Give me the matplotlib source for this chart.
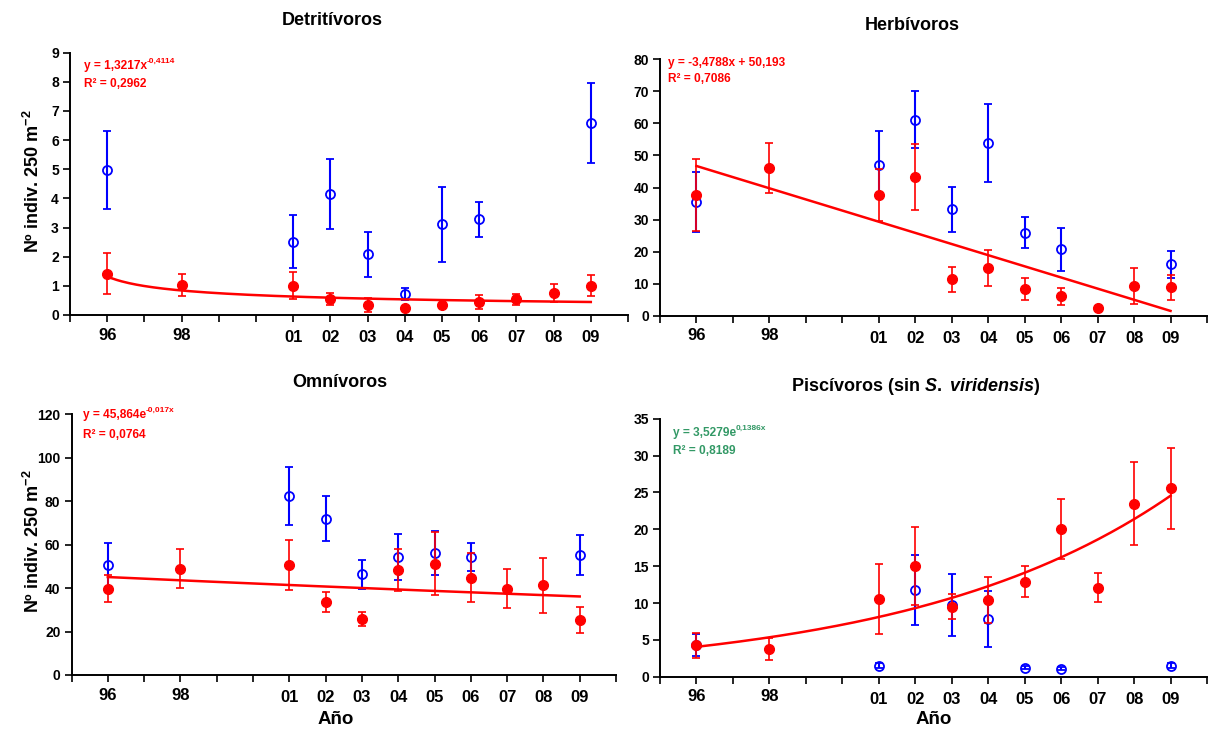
import numpy as np
import matplotlib
matplotlib.use("Agg")
import matplotlib.pyplot as plt
from matplotlib.ticker import FixedLocator, FuncFormatter

plt.rcParams['font.family'] = ['Liberation Sans', 'DejaVu Sans']
plt.rcParams['font.weight'] = 'bold'
plt.rcParams['mathtext.fontset'] = 'custom'
plt.rcParams['mathtext.rm'] = 'Liberation Sans:bold'
plt.rcParams['mathtext.bf'] = 'Liberation Sans:bold'
plt.rcParams['mathtext.it'] = 'Liberation Sans:bold:italic'

nan = np.nan

# Sampling years (two-digit labels on the x axis)
years = [1996, 1998, 2001, 2002, 2003, 2004, 2005, 2006, 2007, 2008, 2009]
year_labels = ['96', '98', '01', '02', '03', '04', '05', '06', '07', '08', '09']

# Detritívoros
det_blue = [4.97, nan, 2.52, 4.16, 2.08, 0.72, 3.11, 3.28, nan, nan, 6.59]
det_blue_err = [1.33, nan, 0.91, 1.20, 0.78, 0.19, 1.28, 0.60, nan, nan, 1.37]
det_red = [1.42, 1.04, 1.01, 0.56, 0.34, 0.23, 0.33, 0.44, 0.54, 0.75, 1.01]
det_red_err = [0.70, 0.38, 0.46, 0.20, 0.25, 0.05, 0.05, 0.23, 0.18, 0.32, 0.35]

# Herbívoros
herb_blue = [35.4, nan, 47.1, 61.1, 33.2, 53.8, 25.9, 20.7, nan, nan, 16.0]
herb_blue_err = [9.4, nan, 10.5, 8.9, 7.1, 12.2, 4.9, 6.7, nan, nan, 4.3]
herb_red = [37.7, 46.1, 37.7, 43.3, 11.3, 14.9, 8.3, 6.0, 2.3, 9.3, 8.8]
herb_red_err = [11.2, 7.8, 8.0, 10.4, 3.8, 5.5, 3.4, 2.7, 0.3, 5.7, 3.9]

# Omnívoros
omn_blue = [50.6, nan, 82.3, 72.0, 46.4, 54.3, 56.2, 54.3, nan, nan, 55.4]
omn_blue_err = [10.2, nan, 13.4, 10.5, 6.7, 10.4, 10.0, 6.4, nan, nan, 9.2]
omn_red = [39.8, 49.0, 50.6, 33.6, 25.8, 48.2, 51.1, 44.8, 39.8, 41.3, 25.3]
omn_red_err = [6.0, 9.0, 11.6, 4.6, 3.4, 9.7, 14.5, 11.2, 9.0, 12.7, 6.0]

# Piscívoros (sin S. viridensis)
pisc_blue = [4.3, nan, 1.5, 11.8, 9.7, 7.8, 1.2, 1.1, nan, nan, 1.5]
pisc_blue_err = [1.5, nan, 0.3, 4.75, 4.2, 3.8, 0.2, 0.2, nan, nan, 0.3]
pisc_red = [4.25, 3.75, 10.6, 15.0, 9.5, 10.45, 12.9, 20.0, 12.1, 23.5, 25.6]
pisc_red_err = [1.7, 1.5, 4.75, 5.3, 1.7, 3.1, 2.15, 4.05, 2.0, 5.6, 5.5]

# Trend-line coefficients (x = years since 1995)
det_power = (1.3217, -0.4114)
herb_linear = (-3.4788, 50.193)
omn_exp = (45.864, -0.017)
pisc_exp = (3.5279, 0.1386)

W, H = 1210, 731
fig = plt.figure(figsize=(W / 100, H / 100), dpi=100)
fig.patch.set_facecolor('white')


def frac(x0, y0, x1, y1):
    """pixel box (left, top, right, bottom) -> figure fraction rect"""
    return [x0 / W, 1 - y1 / H, (x1 - x0) / W, (y1 - y0) / H]


def fpt(x, y):
    return x / W, 1 - y / H


xs = np.array(years) - 1995
label_at = {int(x): lab for x, lab in zip(xs, year_labels)}
RED = '#ff0000'
BLUE = '#0000ff'
GREEN = '#339966'


def panel(rect, ymax, ystep, blue, blue_err, red, red_err, trend_fn):
    ax = fig.add_axes(rect)
    ax.set_xlim(0, 15)
    ax.set_ylim(0, ymax)
    for s in ('top', 'right'):
        ax.spines[s].set_visible(False)
    for s in ('left', 'bottom'):
        ax.spines[s].set_linewidth(1.4)
    # 96 and 98 as major ticks, the 2000s as minor ticks set a little lower
    early = [x for x in xs if x < 5]
    ax.xaxis.set_major_locator(FixedLocator(early))
    ax.xaxis.set_major_formatter(FuncFormatter(lambda v, p: label_at.get(int(round(v)), '')))
    ax.xaxis.set_minor_locator(FixedLocator(np.arange(0, 16)))
    ax.xaxis.set_minor_formatter(FuncFormatter(
        lambda v, p: label_at.get(int(round(v)), '') if v >= 5 else ''))
    ax.tick_params(axis='x', which='both', direction='out', length=5, width=1.2,
                   labelsize=12)
    ax.tick_params(axis='x', which='major', pad=4)
    ax.tick_params(axis='x', which='minor', pad=6)
    ax.set_yticks(np.arange(0, ymax + 0.001, ystep))
    ax.tick_params(axis='y', direction='out', length=5, width=1.2, labelsize=10, pad=3)

    b = np.array(blue, dtype=float)
    be = np.array(blue_err, dtype=float)
    m = ~np.isnan(b)
    ax.errorbar(xs[m], b[m], yerr=be[m], fmt='o', color=BLUE, mfc='none', mec=BLUE,
                ms=6.5, mew=1.3, elinewidth=1.5, capsize=3, capthick=1.5, zorder=3)
    ax.errorbar(xs, red, yerr=red_err, fmt='o', color=RED, mfc=RED, mec=RED,
                ms=7, elinewidth=1.2, capsize=3, capthick=1.2, zorder=4)
    tx = np.linspace(1, 14, 200)
    ax.plot(tx, trend_fn(tx), color=RED, lw=1.8, zorder=5)
    return ax


ax1 = panel(frac(70, 52.7, 628, 315), 9, 1, det_blue, det_blue_err, det_red, det_red_err,
            lambda x: det_power[0] * x ** det_power[1])
ax2 = panel(frac(660, 59.3, 1207, 315.7), 80, 10, herb_blue, herb_blue_err, herb_red,
            herb_red_err, lambda x: herb_linear[0] * x + herb_linear[1])
ax3 = panel(frac(71.5, 414.3, 616, 675), 120, 20, omn_blue, omn_blue_err, omn_red,
            omn_red_err, lambda x: omn_exp[0] * np.exp(omn_exp[1] * x))
ax4 = panel(frac(660, 418.8, 1207, 676.7), 35, 5, pisc_blue, pisc_blue_err, pisc_red,
            pisc_red_err, lambda x: pisc_exp[0] * np.exp(pisc_exp[1] * x))

# Trend equations
for ax, (x, y, base, sup, r2, col, dy) in zip(
        [ax1, ax2, ax3, ax4],
        [(84, 69.5, 'y = 1,3217x', '-0,4114', '0,2962', RED, 17.5),
         (668, 65.7, 'y = -3,4788x + 50,193', '', '0,7086', RED, 16),
         (83, 418, 'y = 45,864e', '-0,017x', '0,0764', RED, 19.5),
         (673, 436, 'y = 3,5279e', '0,1386x', '0,8189', GREEN, 17.5)]):
    base_t = ax.text(*fpt(x, y), base, transform=fig.transFigure, fontsize=8.6, color=col,
                     fontweight='bold', va='baseline', ha='left')
    if sup:
        ax.annotate(sup, xy=(1.0, 0.62), xycoords=base_t, fontsize=6, color=col,
                    fontweight='bold', va='bottom', ha='left', annotation_clip=False)
    ax.text(*fpt(x, y + dy), 'R\u00b2 = ' + r2, transform=fig.transFigure, fontsize=8.6,
            color=col, fontweight='bold', va='baseline', ha='left')

# Panel titles
fig.text(*fpt(332, 25), 'Detritívoros', fontsize=13, fontweight='bold', ha='center', va='baseline')
fig.text(*fpt(912, 30), 'Herbívoros', fontsize=13, fontweight='bold', ha='center', va='baseline')
fig.text(*fpt(340, 387), 'Omnívoros', fontsize=13, fontweight='bold', ha='center', va='baseline')
fig.text(*fpt(916, 391), r'Piscívoros (sin $\mathit{S.}$ $\mathit{viridensis}$)', fontsize=13,
         fontweight='bold', ha='center', va='baseline')

# Axis titles
ylab = r'Nº indiv. 250 m$^{\mathbf{-2}}$'
fig.text(*fpt(33, 181), ylab, fontsize=13, fontweight='bold', rotation=90,
         ha='center', va='center')
fig.text(*fpt(33, 541), ylab, fontsize=13, fontweight='bold', rotation=90,
         ha='center', va='center')
fig.text(*fpt(336, 719), 'Año', fontsize=13.5, fontweight='bold', ha='center', va='center')
fig.text(*fpt(934, 720), 'Año', fontsize=13.5, fontweight='bold', ha='center', va='center')

fig.savefig('out.png', dpi=100, facecolor='white')
